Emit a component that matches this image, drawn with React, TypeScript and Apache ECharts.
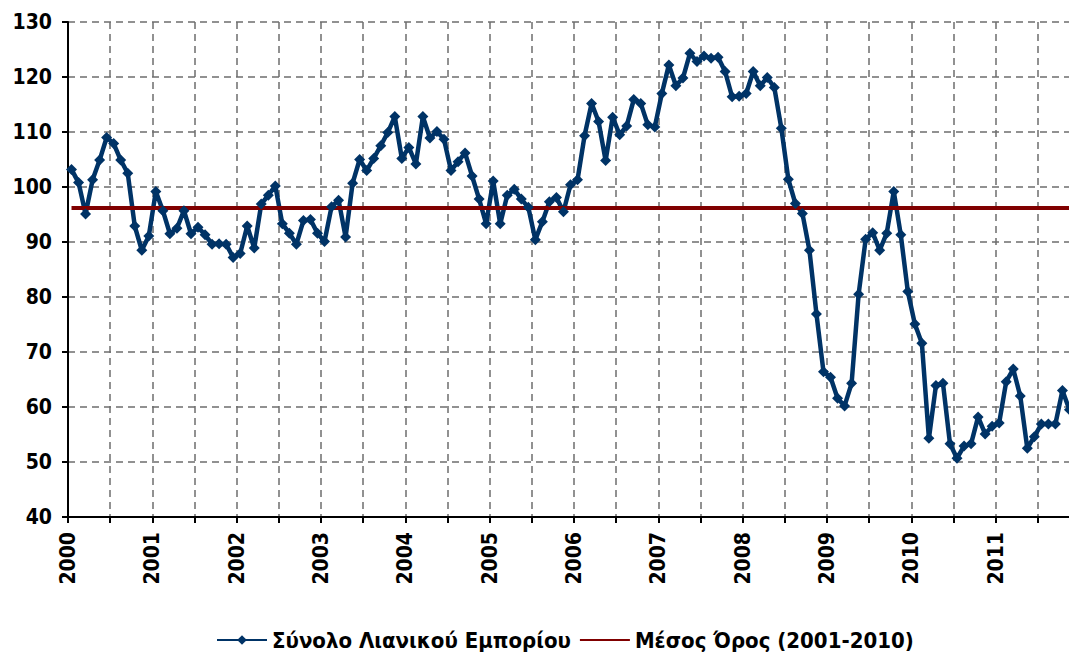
import React, { useEffect, useRef } from "react";
import * as echarts from "echarts";

// Monthly index values, Jan 2000 – Nov 2011
const RETAIL: number[] = [
  103.2, 100.8, 95.1, 101.3, 104.9, 109.0, 107.9, 104.9, 102.5, 92.9, 88.5, 91.1,
  99.2, 95.7, 91.5, 92.5, 95.7, 91.5, 92.7, 91.3, 89.6, 89.7, 89.6, 87.2,
  87.9, 92.9, 88.9, 96.9, 98.5, 100.2, 93.3, 91.6, 89.6, 93.9, 94.1, 91.6,
  90.1, 96.4, 97.6, 90.9, 100.7, 105.0, 103.0, 105.2, 107.5, 109.9, 112.8, 105.2,
  107.2, 104.2, 112.8, 108.9, 110.1, 108.7, 103.0, 104.6, 106.2, 102.0, 97.8, 93.3,
  101.1, 93.3, 98.5, 99.6, 97.8, 96.3, 90.4, 93.7, 97.3, 98.1, 95.5, 100.4,
  101.3, 109.3, 115.2, 111.9, 104.8, 112.7, 109.5, 111.1, 115.9, 115.2, 111.3, 110.9,
  117.0, 122.2, 118.4, 119.8, 124.3, 122.8, 123.8, 123.4, 123.6, 121.0, 116.4, 116.5,
  117.0, 121.0, 118.4, 119.9, 118.1, 110.7, 101.4, 97.0, 95.2, 88.5, 76.9, 66.4,
  65.4, 61.6, 60.2, 64.3, 80.5, 90.5, 91.7, 88.5, 91.6, 99.2, 91.3, 81.0,
  75.1, 71.6, 54.3, 63.9, 64.3, 53.3, 50.7, 52.9, 53.3, 58.2, 55.1, 56.5,
  57.1, 64.6, 66.9, 62.0, 52.5, 54.6, 56.9, 56.9, 56.9, 63.0, 59.5,
];
const AVERAGE_2001_2010 = 96.2;
const YEAR_LABELS: string[] = [
  "2000", "2001", "2002", "2003", "2004", "2005",
  "2006", "2007", "2008", "2009", "2010", "2011",
];
const SERIES_NAMES = ["Σύνολο Λιανικού Εμπορίου", "Μέσος Όρος (2001-2010)"];

const FONT = "'DejaVu Sans Condensed', 'DejaVu Sans', sans-serif";

export default function App() {
  const ref = useRef<HTMLDivElement>(null);
  useEffect(() => {
    document.body.style.margin = "0";
    document.body.style.overflow = "hidden";
    document.documentElement.style.overflow = "hidden";
    if (!ref.current) return;
    const chart = echarts.init(ref.current, null, { renderer: "svg" });
    const gridDash = { color: "#6e6e6e", type: [7, 5] as number[], width: 1.5 };
    chart.setOption({
      animation: false,
      backgroundColor: "#ffffff",
      grid: {
        left: 68,
        top: 22,
        width: 1012,
        height: 495,
        containLabel: false,
        outerBoundsMode: "none",
      },
      legend: {
        left: 216,
        top: 629,
        padding: 0,
        itemWidth: 50,
        itemHeight: 12,
        itemGap: 8,
        textStyle: { fontFamily: FONT, fontWeight: "bold", fontSize: 22, color: "#000" },
        data: [
          { name: SERIES_NAMES[0] },
          { name: SERIES_NAMES[1], itemStyle: { opacity: 0 } },
        ],
      },
      xAxis: {
        type: "value",
        min: 0,
        max: YEAR_LABELS.length * 12,
        interval: 6,
        axisLine: { show: true, onZero: false, lineStyle: { color: "#000", width: 2 } },
        axisTick: { show: true, length: 6, lineStyle: { color: "#000", width: 2 } },
        axisLabel: {
          rotate: 90,
          margin: 15,
          fontFamily: FONT,
          fontWeight: "bold",
          fontSize: 21,
          color: "#000",
          formatter: (v: number) => (v % 12 === 0 ? YEAR_LABELS[v / 12] ?? "" : ""),
        },
        splitLine: { show: true, lineStyle: gridDash },
      },
      yAxis: {
        type: "value",
        min: 40,
        max: 130,
        interval: 10,
        axisLine: { show: true, lineStyle: { color: "#000", width: 2 } },
        axisTick: { show: true, length: 6, lineStyle: { color: "#000", width: 2 } },
        axisLabel: {
          margin: 16,
          fontFamily: FONT,
          fontWeight: "bold",
          fontSize: 21,
          color: "#000",
        },
        splitLine: { show: true, lineStyle: gridDash },
      },
      series: [
        {
          name: SERIES_NAMES[0],
          type: "line",
          data: RETAIL.map((v, i) => [i + 0.5, v]),
          symbol: "diamond",
          symbolSize: 11,
          showAllSymbol: true,
          lineStyle: { color: "#003366", width: 4.5 },
          itemStyle: { color: "#003366" },
        },
        {
          name: SERIES_NAMES[1],
          type: "line",
          data: RETAIL.map((_, i) => [i + 0.5, AVERAGE_2001_2010]),
          symbol: "none",
          lineStyle: { color: "#800000", width: 4 },
          itemStyle: { color: "#800000" },
        },
      ],
    });
    return () => chart.dispose();
  }, []);
  return <div ref={ref} style={{ width: 1069, height: 655 }} />;
}
